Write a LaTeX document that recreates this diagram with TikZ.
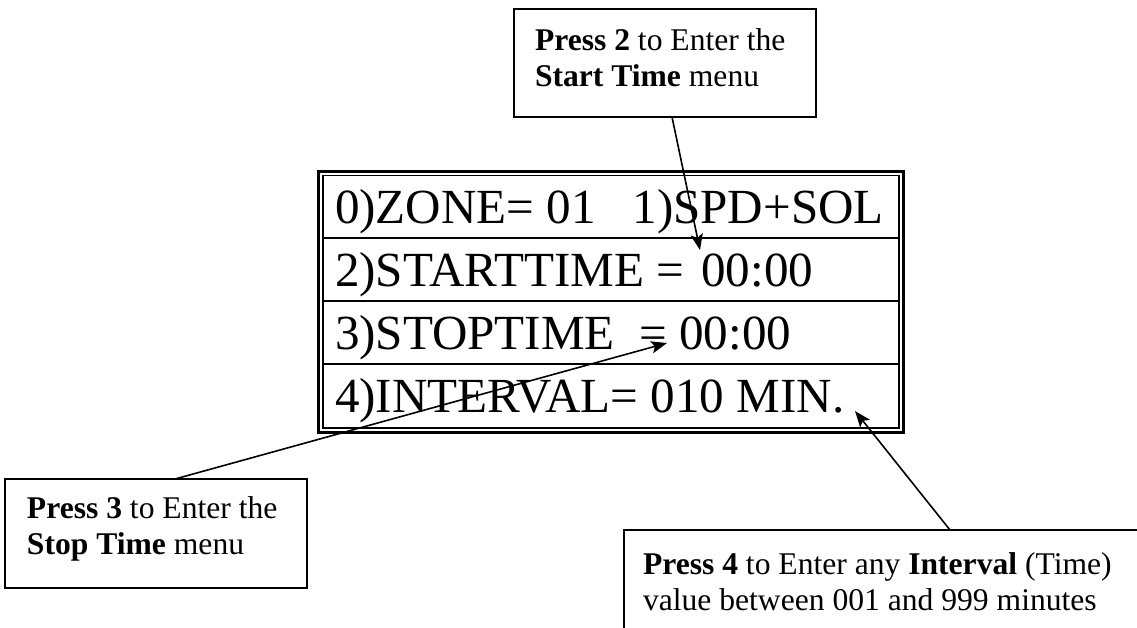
\documentclass[tikz,border=0pt]{standalone}
\usepackage{fontspec}
\setmainfont{Liberation Serif}
\usetikzlibrary{arrows.meta,calc,fit}
\begin{document}
\begin{tikzpicture}[x=0.375pt,y=-0.375pt,
  annbox/.style={draw, line width=0.7pt, inner sep=0pt, outer sep=0pt},
  anntext/.style={inner sep=0pt, outer sep=0pt, anchor=north west, align=left, font=\fontsize{11.85}{13.7}\selectfont},
  rowtext/.style={inner sep=0pt, outer sep=0pt, anchor=base west, font=\fontsize{18.4}{22}\selectfont},
  rowline/.style={line width=0.75pt},
  callout/.style={line width=0.6pt, -{Stealth[length=6pt,width=4.6pt,inset=1.3pt]}},
]
\useasboundingbox (0,0) rectangle (1137,627);
\clip (0,0) rectangle (1137,627);

% display panel with double border
\node[draw, line width=1.15pt, inner sep=0pt, outer sep=0pt, fit={(318.5,171.5) (903.5,432.5)}] (disp) {};
\node[draw, line width=0.6pt, inner sep=0pt, outer sep=0pt, fit={(323,175.5) (899,428)}] (dispin) {};
\draw[rowline] (323,238) -- (899,238);
\draw[rowline] (323,301) -- (899,301);
\draw[rowline] (323,364) -- (899,364);

\node[rowtext] (r1) at (335,223) {0)ZONE= 01~~~1)SPD+SOL};
\node[rowtext] (r2) at (335,286) {2)STARTTIME = \hspace{0.1em}00:00};
\node[rowtext] (r3) at (335,349) {3)STOPTIME~~= 00:00};
\node[rowtext] (r4) at (335,412) {4)INTERVAL= 010 MIN.};

% annotation boxes
\node[annbox, fit={(514,9) (816,117)}] (tb) {};
\node[anntext] (tbt) at (535,28.4) {\textbf{Press 2} to Enter the\\\textbf{Start Time} menu};

\node[annbox, fit={(5,479) (307,588)}] (ll) {};
\node[anntext] (llt) at (27,496.4) {\textbf{Press 3} to Enter the\\\textbf{Stop Time} menu};

\node[annbox, fit={(624,530) (1300,700)}] (lr) {};
\node[anntext] (lrt) at (643,552.5) {\textbf{Press 4} to Enter any \textbf{Interval} (Time)\\value between 001 and 999 minutes};

% arrow targets
\coordinate (t2) at (700,250);
\coordinate (t3) at (667,343);
\coordinate (t4) at (855,411);

\draw[callout] ($(tb.south west)+(158,0)$) -- (t2);
\draw[callout] ($(ll.north west)+(170,0)$) -- (t3);
\draw[callout] ($(lr.north west)+(326,0)$) -- (t4);
\end{tikzpicture}
\end{document}
